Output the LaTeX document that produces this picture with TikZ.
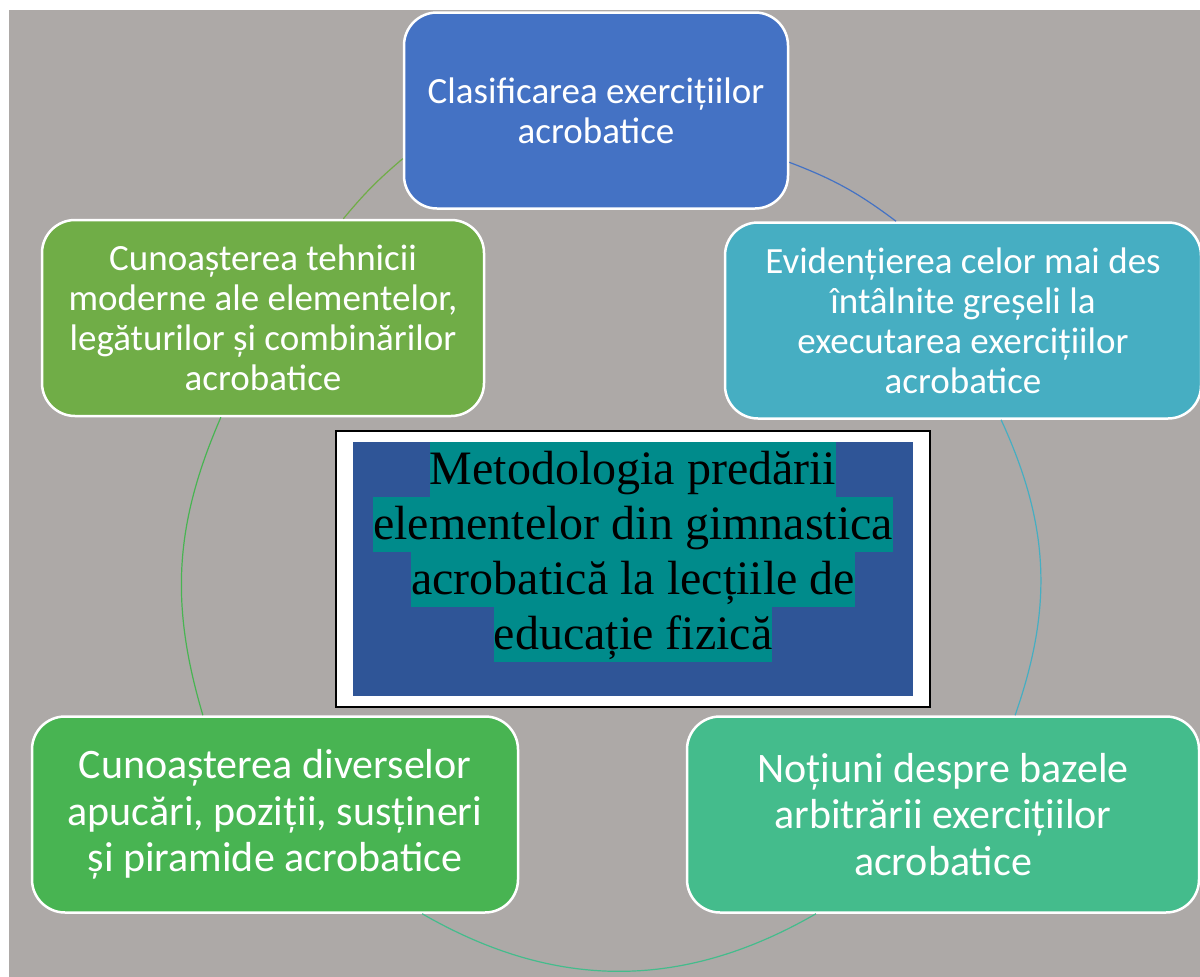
\documentclass[tikz,border=0pt]{standalone}
\usepackage{fontspec}
\setmainfont{Carlito}
\newfontfamily\titlefont{Liberation Serif}
\usetikzlibrary{positioning}
\definecolor{fundal}{RGB}{173,169,167}
\definecolor{blueclas}{RGB}{68,114,196}
\definecolor{tealevid}{RGB}{70,174,194}
\definecolor{greentop}{RGB}{112,173,71}
\definecolor{greenbot}{RGB}{72,180,82}
\definecolor{mintnoti}{RGB}{68,188,140}
\definecolor{titlublue}{RGB}{47,85,151}
\definecolor{hlteal}{RGB}{0,139,139}
\tikzset{
boxv1/.style={rectangle, rounded corners=33pt, draw=white, line width=2.5pt, text=white, align=center, inner sep=0pt, minimum height=196pt, font=\fontsize{37}{40}\selectfont},
boxv2/.style={boxv1, font=\fontsize{42}{46.7}\selectfont},
hlline/.style={fill=hlteal, text=black, inner sep=0pt, outer sep=0pt, text height=43pt, text depth=12pt, font=\titlefont\fontsize{48}{55}\selectfont},
arcv1/.style={line width=1.2pt},
}

\begin{document}
\begin{tikzpicture}[x=1pt,y=-1pt]
\useasboundingbox (0,0) rectangle (1200,977);
\fill[fundal] (9,10) rectangle (1200,977);
\node[boxv1, fill=blueclas, minimum width=384pt] at (596,110.5) (clas) {Clasificarea exercițiilor\\acrobatice};
\node[boxv1, fill=tealevid, minimum width=476pt] at (963,320.5) (evid) {Evidențierea celor mai des\\întâlnite greșeli la\\executarea exercițiilor\\acrobatice};
\node[boxv1, fill=greentop, minimum width=442pt] at (263,318) (cunt) {Cunoașterea tehnicii\\moderne ale elementelor,\\legăturilor și combinărilor\\acrobatice};
\node[boxv2, fill=greenbot, minimum width=486pt] at (275,814.5) (cuna) {Cunoașterea diverselor\\apucări, poziții, susțineri\\și piramide acrobatice};
\node[boxv2, fill=mintnoti, minimum width=512pt] at (943,814.5) (noti) {Noțiuni despre bazele\\arbitrării exercițiilor\\acrobatice};
\draw[arcv1, greentop, bend right = 5] (clas.194.4) to (cunt.51.1);
\draw[arcv1, greenbot, bend right = 20] (cunt.247.8) to (cuna.126.5);
\draw[arcv1, mintnoti, bend right = 30] (cuna.326) to (noti.218);
\draw[arcv1, tealevid, bend right = 22] (noti.54.6) to (evid.291.1);
\draw[arcv1, blueclas, bend right = 8] (evid.124.6) to (clas.345.5);
%title in the middle
\node[draw=black, line width=2pt, fill=white, inner sep=0pt, minimum width=594pt, minimum height=276pt] at (633,569) (cadru) {};
\node[fill=titlublue, inner sep=0pt, minimum width=560pt, minimum height=254pt] at (633,569) (fund) {};
\node[hlline, anchor=north] at (fund.north) (l1) {Metodologia predării};
\node[hlline, below=0pt of l1] (l2) {elementelor din gimnastica};
\node[hlline, below=0pt of l2] (l3) {acrobatică la lecțiile de};
\node[hlline, below=0pt of l3] (l4) {educație fizică};
\end{tikzpicture}
\end{document}
